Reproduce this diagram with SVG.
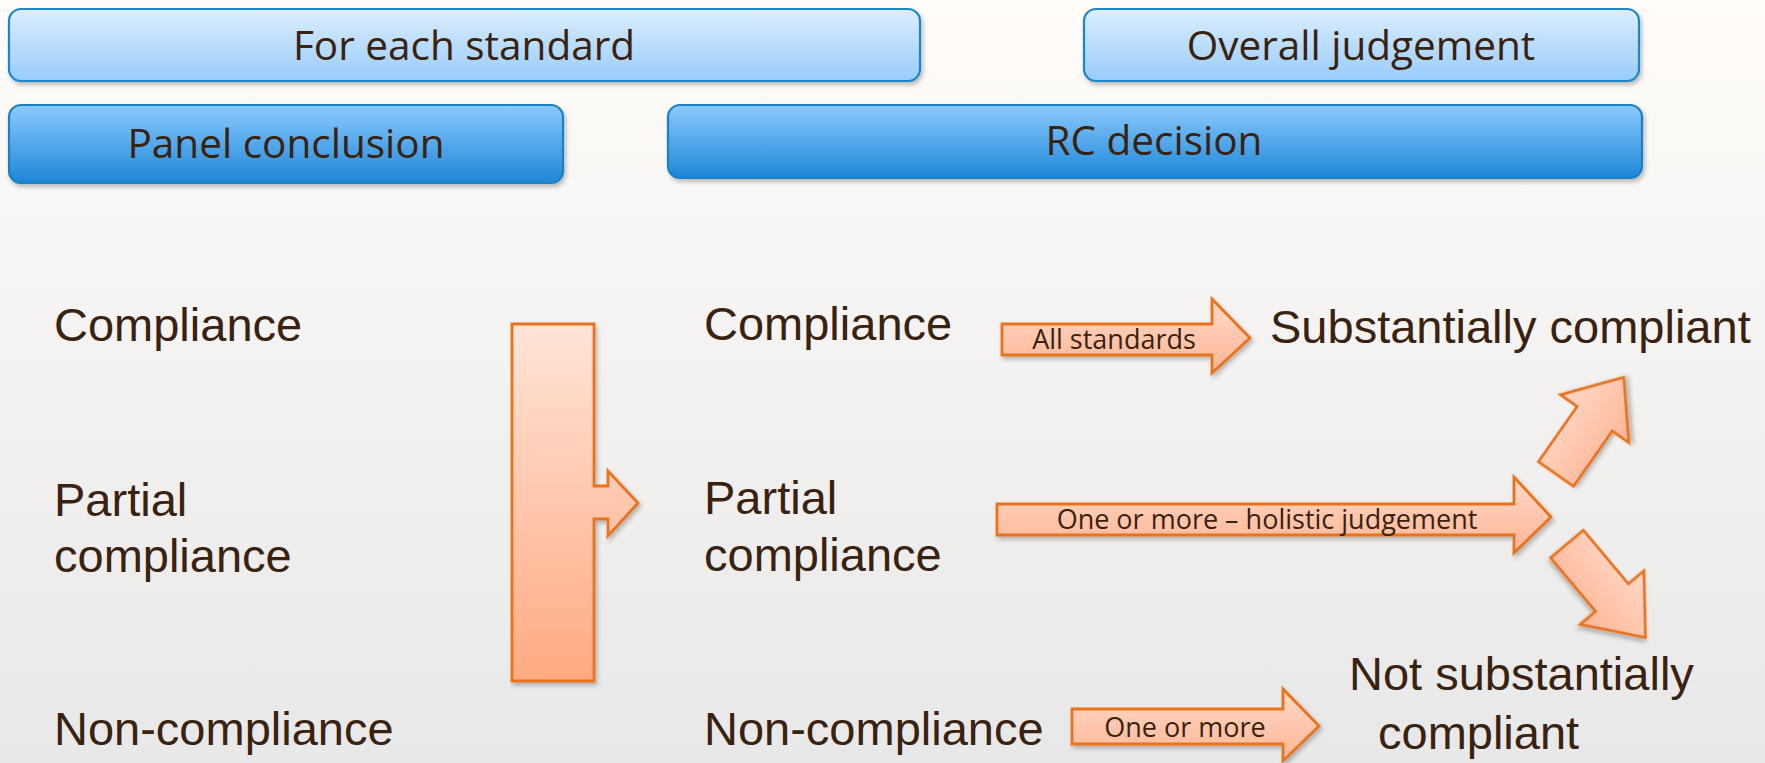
<svg xmlns="http://www.w3.org/2000/svg" width="1765" height="763" viewBox="0 0 1765 763">
<defs>
<linearGradient id="bg" x1="0" y1="0" x2="0" y2="1"><stop offset="0" stop-color="#fffcf9"/><stop offset="1" stop-color="#e8e8e8"/></linearGradient>
<linearGradient id="lightBlue" x1="0" y1="0" x2="0" y2="1"><stop offset="0" stop-color="#ddeefd"/><stop offset="1" stop-color="#98ccfb"/></linearGradient>
<linearGradient id="darkBlue" x1="0" y1="0" x2="0" y2="1"><stop offset="0" stop-color="#8ccafd"/><stop offset="1" stop-color="#1c86d8"/></linearGradient>
<linearGradient id="orange" x1="0" y1="0" x2="0" y2="1"><stop offset="0" stop-color="#ffe4d8"/><stop offset="1" stop-color="#ffaa82"/></linearGradient>
<linearGradient id="orangeS" x1="0" y1="0" x2="0" y2="1"><stop offset="0" stop-color="#ffd9c8"/><stop offset="1" stop-color="#ffb594"/></linearGradient>
<filter id="sh" x="-10%" y="-10%" width="120%" height="130%"><feDropShadow dx="2" dy="3" stdDeviation="2" flood-color="#000" flood-opacity="0.25"/></filter>
<style>
.hdr{font-family:"Open Sans","Noto Sans","Liberation Sans",sans-serif;font-size:40.5px;fill:#3a2210;text-anchor:middle}
.lbl{font-family:"Open Sans","Noto Sans","Liberation Sans",sans-serif;font-size:27px;fill:#3a2210;text-anchor:middle}
.big{font-family:"Liberation Sans",Arial,sans-serif;font-size:47px;fill:#3a2210}
.lb{fill:url(#lightBlue);stroke:#1a86c6;stroke-width:2.2}
.db{fill:url(#darkBlue);stroke:#1a80c2;stroke-width:2.2}
.arr{fill:url(#orangeS);stroke:#e8731c;stroke-width:2.8;stroke-linejoin:miter}
.bigarr{fill:url(#orange);stroke:#e8731c;stroke-width:2.8}
</style>
</defs>
<rect x="0" y="0" width="1765" height="763" fill="url(#bg)"/>

<g id="for-each-standard"><rect class="lb" x="9" y="9" width="911" height="72" rx="12" filter="url(#sh)"/><text class="hdr" x="464" y="60">For each standard</text></g>
<g id="overall-judgement"><rect class="lb" x="1084" y="9" width="555" height="72" rx="12" filter="url(#sh)"/><text class="hdr" x="1361" y="60">Overall judgement</text></g>
<g id="panel-conclusion"><rect class="db" x="9" y="105" width="554" height="78" rx="12" filter="url(#sh)"/><text class="hdr" x="286" y="158">Panel conclusion</text></g>
<g id="rc-decision"><rect class="db" x="668" y="105" width="974" height="73" rx="12" filter="url(#sh)"/><text class="hdr" x="1154" y="155">RC decision</text></g>

<g id="panel-compliance"><text class="big" x="54" y="341">Compliance</text></g>
<g id="panel-partial"><text class="big" x="54" y="516">Partial</text><text class="big" x="54" y="572">compliance</text></g>
<g id="panel-non"><text class="big" x="54" y="745">Non-compliance</text></g>

<g id="rc-compliance"><text class="big" x="704" y="340">Compliance</text></g>
<g id="rc-partial"><text class="big" x="704" y="514">Partial</text><text class="big" x="704" y="571">compliance</text></g>
<g id="rc-non"><text class="big" x="704" y="745">Non-compliance</text></g>

<g id="substantially-compliant"><text class="big" x="1270" y="343">Substantially compliant</text></g>
<g id="not-substantially-compliant"><text class="big" x="1349" y="690">Not substantially</text><text class="big" x="1378" y="749">compliant</text></g>

<g id="connectors">
<path class="bigarr" filter="url(#sh)" d="M512,324 L594,324 L594,486 L608,486 L608,471 L638,503 L608,536 L608,519 L594,519 L594,681 L512,681 Z"/>
<g id="arrow-all-standards"><path class="arr" filter="url(#sh)" d="M1002,324 L1212,324 L1212,299 L1250,338 L1212,373 L1212,355 L1002,355 Z"/><text class="lbl" x="1114" y="349">All standards</text></g>
<g id="arrow-holistic"><path class="arr" filter="url(#sh)" d="M997,504 L1514,504 L1514,477 L1551,517 L1514,553 L1514,535 L997,535 Z"/><text class="lbl" x="1267" y="529">One or more – holistic judgement</text></g>
<g id="arrow-one-or-more"><path class="arr" filter="url(#sh)" d="M1072,709 L1283,709 L1283,689 L1319,726 L1283,761 L1283,744 L1072,744 Z"/><text class="lbl" x="1185" y="737">One or more</text></g>
<path class="arr" filter="url(#sh)" transform="translate(1556,474) rotate(-55)" d="M0,-21.4 L67.5,-21.4 L67.5,-41.7 L118,0 L67.5,41.7 L67.5,21.4 L0,21.4 Z"/>
<path class="arr" filter="url(#sh)" transform="translate(1567,544) rotate(50)" d="M0,-21.4 L70,-21.4 L70,-41.7 L122,0 L70,41.7 L70,21.4 L0,21.4 Z"/>
</g>
</svg>
